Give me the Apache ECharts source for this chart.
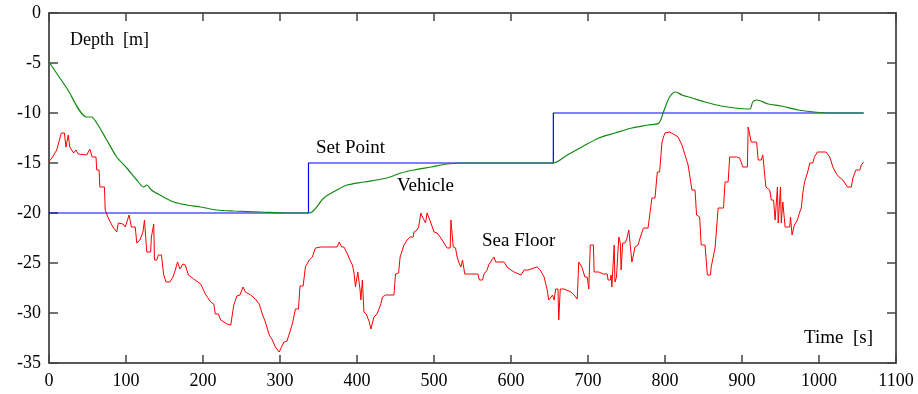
<!DOCTYPE html>
<html>
<head>
<meta charset="utf-8">
<script src="https://cdn.jsdelivr.net/npm/echarts@6/dist/echarts.min.js"></script>
<style>
  html, body { margin: 0; padding: 0; background: #fff; }
  #chart { width: 918px; height: 394px; }
</style>
</head>
<body>
<div id="chart"></div>
<script>
// set point (blue)
var setPointT = [0, 337, 337, 655, 655, 1058];
var setPointD = [-20, -20, -15, -15, -10, -10];

// vehicle depth (green)
var vehicleT = [0, 23, 49, 55, 62, 75, 88, 101, 114, 123, 127, 133, 144, 162, 179, 197, 218, 240, 275, 310, 338,
  357, 374, 387, 409, 439, 457, 474, 496, 517, 543, 655, 673, 692, 714, 735, 757, 778, 792, 798, 806, 814,
  822, 835, 852, 873, 891, 910, 914, 919, 934, 951, 973, 994, 1016, 1058];
var vehicleD = [-4.9, -7.5, -10.4, -10.4, -11.0, -12.7, -14.4, -15.5, -16.7, -17.4, -17.2, -17.7, -18.2, -18.9, -19.2, -19.4, -19.7, -19.8, -19.9, -20.0, -20.0,
  -18.5, -17.7, -17.2, -16.9, -16.5, -16.0, -15.7, -15.4, -15.1, -15.0, -15.0, -14.2, -13.4, -12.5, -12.0, -11.5, -11.2, -11.0, -9.9, -8.4, -7.9,
  -8.2, -8.5, -8.9, -9.3, -9.5, -9.6, -8.9, -8.7, -9.1, -9.3, -9.7, -9.9, -10.0, -10.0];

// sea floor (red)
var seaFloorT = [0, 3, 5, 10, 16, 20, 22, 25, 27, 29, 32, 35, 38, 49, 53, 55, 56, 61, 62, 65, 66, 72, 73, 77, 83, 88, 90, 96, 99,
  104, 107, 112, 114, 118, 122, 124, 127, 132, 133, 136, 137, 140, 142, 146, 149, 152, 157, 161, 164, 167, 170, 174, 177, 181, 188, 197,
  203, 210, 214, 216, 220, 223, 231, 236, 240, 244, 248, 252, 255, 257, 262, 268, 273, 277, 281, 286, 290, 294, 299,
  301, 305, 309, 312, 316, 320, 324, 326, 330, 333, 338, 342, 346, 353, 374, 377, 380, 383, 385, 387, 392, 394, 396, 398,
  401, 404, 405, 407, 409, 412, 416, 418, 420, 422, 426, 431, 433, 437, 448, 450, 454, 456, 461, 465, 469, 473, 474, 478, 480, 483, 485, 487, 489, 491, 493, 496, 498,
  500, 504, 509, 513, 517, 521, 522, 524, 525, 528, 530, 533, 535, 537, 540, 548, 557, 559, 563, 565, 569, 571, 575, 578, 580, 591, 595,
  600, 604, 613, 617, 622, 626, 634, 636, 638, 643, 647, 649, 654, 656, 658, 661, 662, 664, 669, 678, 682, 686, 688, 690, 692, 696, 699,
  701, 703, 707, 708, 714, 716, 720, 725, 726, 729, 730, 731, 733, 734, 735, 737, 740, 742, 743, 745, 748, 750, 753, 755, 757, 759, 761, 765, 768, 770, 772, 778, 783, 787, 790, 793, 796, 798,
  800, 806, 813, 817, 822, 826, 830, 835, 839, 841, 845, 847, 852, 855, 859, 860, 865, 869, 876, 878, 882, 884, 893, 897,
  901, 907, 908, 910, 912, 919, 921, 925, 927, 929, 931, 936, 938, 941, 943, 945, 946, 947, 950, 951, 953, 955, 956, 962, 963, 965, 968, 972, 975, 977, 979, 981, 986, 988, 992, 994, 998,
  1009, 1014, 1018, 1022, 1026, 1031, 1037, 1042, 1044, 1046, 1048, 1053, 1055, 1058];
var seaFloorD = [-14.8, -14.6, -14.5, -13.7, -12.0, -12.0, -13.4, -12.2, -13.4, -13.2, -14.0, -13.7, -14.1, -14.2, -13.6, -13.4, -14.4, -14.4, -15.7, -15.7, -17.4, -17.4, -19.7, -20.5, -21.4, -21.9, -21.0, -21.1, -21.4,
  -20.2, -21.4, -21.4, -23.0, -22.7, -21.9, -20.7, -23.9, -23.9, -22.4, -21.1, -24.7, -24.7, -24.2, -24.2, -26.2, -26.9, -26.9, -26.4, -25.7, -24.9, -25.6, -25.1, -25.2, -26.2, -26.6, -27.1,
  -28.1, -28.9, -29.1, -30.1, -30.1, -30.7, -31.1, -31.2, -29.2, -28.3, -28.2, -27.4, -27.9, -27.8, -28.2, -28.6, -29.1, -30.1, -30.9, -32.2, -32.7, -33.4, -33.9,
  -33.7, -32.9, -32.8, -32.1, -31.1, -29.6, -29.6, -27.3, -27.3, -25.4, -24.7, -24.4, -23.5, -23.4, -23.4, -22.9, -23.4, -23.4, -23.2, -24.0, -24.9, -25.2, -25.9, -27.4,
  -25.9, -27.7, -28.7, -26.7, -29.9, -30.1, -30.9, -31.6, -31.6, -30.4, -30.1, -29.1, -28.4, -28.2, -28.2, -26.1, -26.0, -24.4, -23.2, -22.7, -22.4, -22.4, -21.9, -21.7, -21.4, -20.0, -20.4, -20.5, -21.0, -20.0, -19.9, -21.0, -20.9,
  -21.9, -22.0, -22.5, -23.0, -23.5, -23.5, -20.7, -20.7, -23.4, -23.5, -24.4, -25.1, -25.4, -24.7, -26.1, -26.1, -26.1, -26.7, -26.7, -26.1, -25.7, -25.2, -24.7, -24.4, -24.9, -24.9, -25.4,
  -25.7, -25.9, -26.2, -25.7, -25.7, -25.6, -25.4, -25.2, -25.7, -26.4, -27.7, -28.7, -28.2, -28.7, -27.6, -27.6, -30.7, -27.6, -27.6, -27.9, -28.2, -28.6, -24.9, -25.1, -25.4, -26.4, -26.4,
  -27.6, -23.2, -23.2, -25.9, -25.9, -25.7, -26.1, -26.1, -26.7, -26.7, -26.2, -27.4, -27.6, -23.2, -26.9, -26.4, -22.4, -23.0, -25.7, -23.0, -23.0, -22.7, -21.7, -21.5, -24.9, -24.2, -23.4, -23.2, -22.4, -22.4, -21.5, -21.5, -18.5, -18.5, -15.9, -15.9, -13.0, -12.4,
  -12.0, -11.9, -12.2, -12.4, -13.2, -14.2, -15.2, -17.7, -17.7, -20.2, -20.4, -23.2, -23.2, -26.2, -26.2, -25.4, -23.5, -19.5, -19.5, -16.9, -16.9, -14.4, -14.4, -14.5,
  -15.4, -15.4, -11.4, -11.5, -12.9, -12.9, -14.7, -14.7, -14.2, -14.2, -17.4, -17.7, -18.7, -18.7, -20.7, -20.7, -17.4, -21.0, -17.4, -21.0, -18.9, -19.0, -21.4, -21.4, -20.4, -22.2, -21.2, -20.7, -19.9, -19.5, -18.0, -17.0, -15.7, -15.0, -15.0, -14.4, -13.9,
  -13.9, -14.4, -15.4, -16.0, -16.4, -16.7, -17.4, -17.4, -16.5, -16.5, -15.7, -15.7, -15.2, -14.9];

function pairs(t, d) {
  var out = [];
  for (var i = 0; i < t.length; i++) out.push([t[i], d[i]]);
  return out;
}

var serif = "Liberation Serif";
var axisColor = "#222";

var chart = echarts.init(document.getElementById("chart"));
var option = {
  animation: false,
  backgroundColor: "#fff",
  grid: { left: 49, right: 22, top: 13, bottom: 31, containLabel: false },
  xAxis: [
    {
      type: "value", min: 0, max: 1100, interval: 100,
      axisLine: { show: true, onZero: false, lineStyle: { color: axisColor, width: 1.5 } },
      axisTick: { show: true, inside: true, length: 8, lineStyle: { color: "#444", width: 1.5 } },
      axisLabel: { color: "#000", fontFamily: serif, fontSize: 18, margin: 9,
        formatter: function (v) { return String(v); } },
      splitLine: { show: false }
    },
    {
      type: "value", min: 0, max: 1100, interval: 100, position: "top",
      axisLine: { show: true, onZero: false, lineStyle: { color: axisColor, width: 1.5 } },
      axisTick: { show: true, inside: true, length: 8, lineStyle: { color: "#444", width: 1.5 } },
      axisLabel: { show: false },
      splitLine: { show: false }
    }
  ],
  yAxis: [
    {
      type: "value", min: -35, max: 0, interval: 5,
      axisLine: { show: true, onZero: false, lineStyle: { color: axisColor, width: 1.5 } },
      axisTick: { show: true, inside: true, length: 9, lineStyle: { color: "#444", width: 1.5 } },
      axisLabel: { color: "#000", fontFamily: serif, fontSize: 18, margin: 8 },
      splitLine: { show: false }
    },
    {
      type: "value", min: -35, max: 0, interval: 5, position: "right",
      axisLine: { show: true, onZero: false, lineStyle: { color: axisColor, width: 1.5 } },
      axisTick: { show: true, inside: true, length: 9, lineStyle: { color: "#444", width: 1.5 } },
      axisLabel: { show: false },
      splitLine: { show: false }
    }
  ],
  series: [
    {
      name: "Sea Floor", type: "line", data: pairs(seaFloorT, seaFloorD),
      symbol: "none", lineStyle: { color: "#ff0000", width: 1 }, z: 2
    },
    {
      name: "Set Point", type: "line", data: pairs(setPointT, setPointD),
      symbol: "none", lineStyle: { color: "#0000ff", width: 1.2 }, z: 3
    },
    {
      name: "Vehicle", type: "line", data: pairs(vehicleT, vehicleD), smooth: 0.3,
      symbol: "none", lineStyle: { color: "#108a10", width: 1.2 }, z: 4
    }
  ],
  graphic: [
    { type: "text", left: 70, top: 31, style: { text: "Depth  [m]", font: "18px " + serif, fill: "#000" } },
    { type: "text", left: 316, top: 139, style: { text: "Set Point", font: "19px " + serif, fill: "#000" } },
    { type: "text", left: 397, top: 177, style: { text: "Vehicle", font: "19px " + serif, fill: "#000" } },
    { type: "text", left: 482, top: 232, style: { text: "Sea Floor", font: "19px " + serif, fill: "#000" } },
    { type: "text", left: 804, top: 329, style: { text: "Time  [s]", font: "19px " + serif, fill: "#000" } }
  ]
};
chart.setOption(option);
</script>
</body>
</html>
